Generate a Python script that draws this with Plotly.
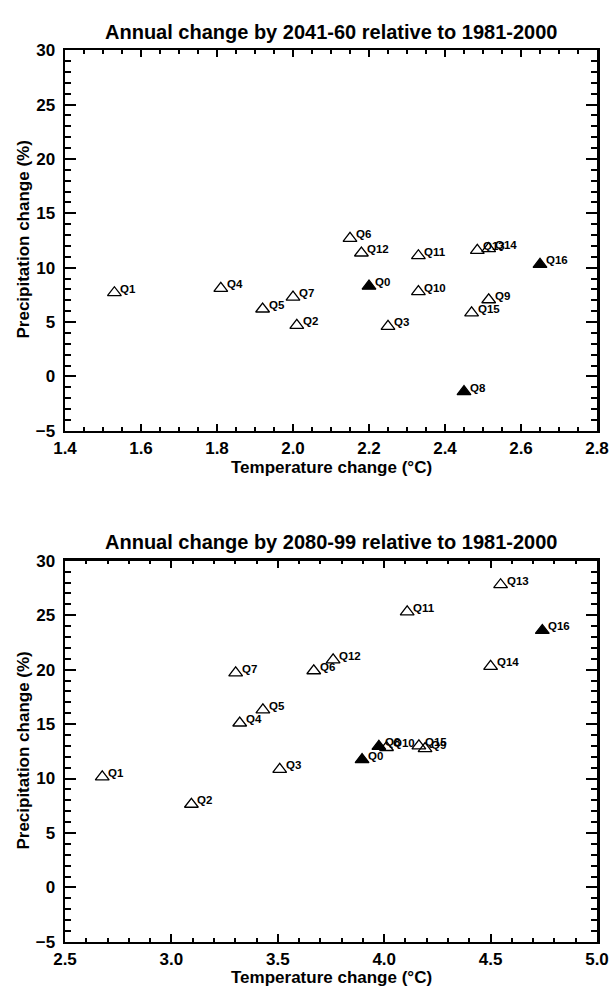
import plotly.graph_objects as go

# ---------------- data ----------------
names = ["Q0", "Q1", "Q2", "Q3", "Q4", "Q5", "Q6", "Q7", "Q8",
         "Q9", "Q10", "Q11", "Q12", "Q13", "Q14", "Q15", "Q16"]
filled = ["Q0", "Q8", "Q16"]

# 2041-60 relative to 1981-2000
t_2050 = [2.20, 1.53, 2.01, 2.25, 1.81, 1.92, 2.15, 2.00, 2.45,
          2.515, 2.33, 2.33, 2.18, 2.485, 2.515, 2.47, 2.65]
p_2050 = [8.3, 7.7, 4.7, 4.6, 8.1, 6.2, 12.7, 7.3, -1.4,
          7.05, 7.8, 11.1, 11.35, 11.6, 11.75, 5.85, 10.3]

# 2080-99 relative to 1981-2000
t_2090 = [3.896, 2.675, 3.094, 3.509, 3.321, 3.43, 3.669, 3.302, 3.975,
          4.192, 4.011, 4.108, 3.76, 4.547, 4.50, 4.163, 4.743]
p_2090 = [11.74, 10.15, 7.64, 10.85, 15.1, 16.3, 19.9, 19.7, 12.95,
          12.75, 12.85, 25.3, 20.9, 27.8, 20.3, 13.0, 23.6]

title_top = "Annual change by 2041-60 relative to 1981-2000"
title_bot = "Annual change by 2080-99 relative to 1981-2000"
xlabel = "Temperature change (°C)"
ylabel = "Precipitation change (%)"

# ---------------- figure ----------------
W, H = 609, 996
FONT = "Liberation Sans, Arial, Helvetica, sans-serif"


def py(pix):
    return 1 - pix / H


fig = go.Figure()

panels = [
    (t_2050, p_2050, "x", "y"),
    (t_2090, p_2090, "x2", "y2"),
]

annotations = []
for tx, pr, xa, ya in panels:
    open_x = [t for t, n in zip(tx, names) if n not in filled]
    open_y = [p for p, n in zip(pr, names) if n not in filled]
    fill_x = [t for t, n in zip(tx, names) if n in filled]
    fill_y = [p for p, n in zip(pr, names) if n in filled]
    fig.add_trace(go.Scatter(
        x=open_x, y=open_y, mode="markers", xaxis=xa, yaxis=ya,
        marker=dict(symbol="triangle-up-open", size=12, color="black",
                    line=dict(width=1.3, color="black")),
        showlegend=False, hoverinfo="skip"))
    fig.add_trace(go.Scatter(
        x=fill_x, y=fill_y, mode="markers", xaxis=xa, yaxis=ya,
        marker=dict(symbol="triangle-up", size=12, color="black",
                    line=dict(width=1.3, color="black")),
        showlegend=False, hoverinfo="skip"))
    for t, p, n in zip(tx, pr, names):
        annotations.append(dict(
            x=t, y=p, xref=xa, yref=ya, text="<b>" + n + "</b>",
            showarrow=False,
            xanchor="left", yanchor="bottom", xshift=4, yshift=-4,
            font=dict(family=FONT, size=11.5, color="black")))

TICKFONT = dict(family=FONT, size=17, color="black", weight=700)

common_axis = dict(
    showgrid=False, zeroline=False, showline=True, linecolor="black",
    linewidth=2.5, mirror="ticks", ticks="inside", tickcolor="black",
    tickwidth=2,
)

top_dom = [py(430), py(42)]
bot_dom = [py(951), py(562.5)]

fig.update_layout(
    width=W, height=H,
    margin=dict(l=65, r=12, t=0, b=0),
    paper_bgcolor="white", plot_bgcolor="white",
    xaxis=dict(common_axis, domain=[0, 1], range=[1.4, 2.8], dtick=0.2,
               tickformat=".1f", ticklen=7, anchor="y", tickfont=TICKFONT,
               minor=dict(dtick=0.05, ticklen=3.5, ticks="inside",
                          tickcolor="black", tickwidth=2),
               ticklabelstandoff=0),
    yaxis=dict(common_axis, domain=top_dom, range=[-5, 30], dtick=5,
               ticklen=11, anchor="x", tickfont=TICKFONT,
               minor=dict(dtick=1, ticklen=6, ticks="inside",
                          tickcolor="black", tickwidth=2),
               ticklabelstandoff=4),
    xaxis2=dict(common_axis, domain=[0, 1], range=[2.5, 5.0], dtick=0.5,
                tickformat=".1f", ticklen=7.5, anchor="y2", tickfont=TICKFONT,
                minor=dict(dtick=0.1, ticklen=3.7, ticks="inside",
                           tickcolor="black", tickwidth=2),
                ticklabelstandoff=0),
    yaxis2=dict(common_axis, domain=bot_dom, range=[-5, 30], dtick=5,
                ticklen=11, anchor="x2", tickfont=TICKFONT,
                minor=dict(dtick=1, ticklen=6, ticks="inside",
                           tickcolor="black", tickwidth=2),
                ticklabelstandoff=4),
)

title_font = dict(family=FONT, size=20, color="black", weight=700)
label_font = dict(family=FONT, size=17, color="black", weight=700)

annotations += [
    dict(text=title_top, x=0.5, y=py(23), xref="paper", yref="paper",
         showarrow=False, xanchor="center", yanchor="middle", font=title_font),
    dict(text=title_bot, x=0.5, y=py(543.5), xref="paper", yref="paper",
         showarrow=False, xanchor="center", yanchor="middle", font=title_font),
    dict(text=xlabel, x=0.5, y=py(467), xref="paper",
         yref="paper", showarrow=False, xanchor="center", yanchor="middle",
         font=label_font),
    dict(text=xlabel, x=0.5, y=py(987), xref="paper",
         yref="paper", showarrow=False, xanchor="center", yanchor="middle",
         font=label_font),
    dict(text=ylabel, x=(24 - 65) / 532, y=py(235),
         xref="paper", yref="paper", showarrow=False, xanchor="center",
         yanchor="middle", textangle=-90, font=label_font),
    dict(text=ylabel, x=(24 - 65) / 532, y=py(756),
         xref="paper", yref="paper", showarrow=False, xanchor="center",
         yanchor="middle", textangle=-90, font=label_font),
]
fig.update_layout(annotations=annotations)

fig.write_html(
    "out.html",
    config={"displayModeBar": False, "staticPlot": True},
    post_script="document.body.style.margin='0';document.body.style.overflow='hidden';",
)
